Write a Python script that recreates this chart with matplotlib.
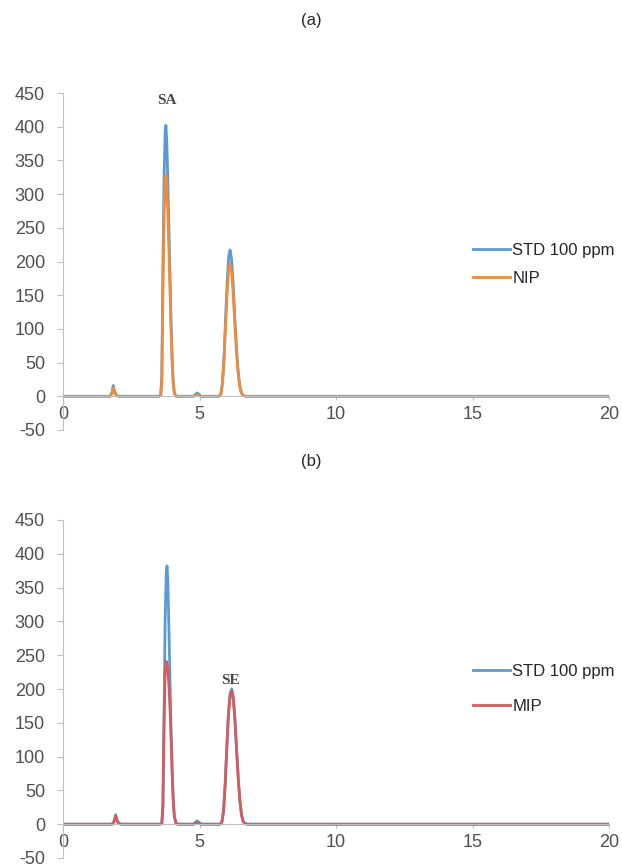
import matplotlib
matplotlib.use('Agg')
import matplotlib.pyplot as plt

plt.rcParams['font.family'] = ['Liberation Sans', 'DejaVu Sans']
plt.rcParams['axes.unicode_minus'] = False

# ── data ─────────────────────────────────────────────────────
t_a = [0, 1.72, 1.79, 1.84, 1.89, 1.96, 2.05,
       3.50, 3.58, 3.62, 3.66, 3.70, 3.74, 3.77, 3.80, 3.84, 3.88, 3.92, 3.96, 4.00, 4.04, 4.08, 4.14,
       4.78, 4.85, 4.91, 4.98, 5.06,
       5.72, 5.78, 5.84, 5.90, 5.96, 6.02, 6.07, 6.12, 6.17, 6.23, 6.29, 6.35, 6.41, 6.47, 6.53, 6.60, 6.70,
       20]
std_a = [0, 0, 5, 16, 7, 1, 0,
         0, 1, 30, 190, 320, 390, 402, 380, 320, 250, 180, 110, 55, 20, 5, 0,
         0, 3, 5, 3, 0,
         0, 3, 20, 60, 120, 175, 208, 217, 205, 170, 120, 75, 40, 17, 6, 1, 0,
         0]
nip_a = [0, 0, 4, 13, 6, 1, 0,
         0, 1, 25, 155, 265, 320, 328, 315, 270, 215, 155, 95, 48, 18, 5, 0,
         0, 1, 2, 1, 0,
         0, 3, 18, 55, 110, 160, 189, 197, 186, 155, 110, 68, 36, 15, 5, 1, 0,
         0]

t_b = [0, 1.80, 1.87, 1.93, 1.98, 2.05, 2.14,
       3.55, 3.62, 3.66, 3.70, 3.74, 3.78, 3.81, 3.84, 3.88, 3.92, 3.96, 4.00, 4.04, 4.08, 4.14, 4.20,
       4.78, 4.85, 4.91, 4.98, 5.06,
       5.76, 5.82, 5.88, 5.94, 6.00, 6.06, 6.12, 6.18, 6.24, 6.30, 6.36, 6.42, 6.48, 6.54, 6.60, 6.66, 6.76,
       20]
std_b = [0, 0, 4, 14, 6, 1, 0,
         0, 1, 25, 150, 300, 370, 382, 360, 290, 210, 135, 75, 32, 10, 1, 0,
         0, 3, 5, 3, 0,
         0, 3, 20, 60, 115, 165, 193, 200, 188, 155, 110, 68, 35, 14, 4, 1, 0,
         0]
mip_b = [0, 0, 4, 12, 5, 1, 0,
         0, 1, 30, 150, 225, 241, 238, 228, 205, 170, 128, 75, 35, 12, 2, 0,
         0, 1, 2, 1, 0,
         0, 3, 19, 58, 112, 162, 190, 197, 185, 152, 108, 66, 34, 13, 4, 1, 0,
         0]

x_ticks = [0, 5, 10, 15, 20]
y_ticks = [-50, 0, 50, 100, 150, 200, 250, 300, 350, 400, 450]

BLUE   = "#5b9bd5"
ORANGE = "#ee8c3e"
RED    = "#d45c5c"
GRID   = "#bfbfbf"
TXT    = "#505050"
SERIF  = ["Liberation Serif", "DejaVu Serif"]

W, H = 622, 865
fig = plt.figure(figsize=(W / 100, H / 100), dpi=100)


def style_axis(ax):
    ax.set_xlim(0, 20)
    ax.set_ylim(-50, 450)
    ax.set_xticks(x_ticks)
    ax.set_yticks(y_ticks)
    for s in ("top", "right"):
        ax.spines[s].set_visible(False)
    ax.spines["left"].set_color(GRID)
    ax.spines["bottom"].set_color(GRID)
    ax.spines["bottom"].set_position(("data", 0))
    ax.tick_params(axis="y", colors=GRID, labelcolor=TXT, labelsize=13, length=4, pad=9)
    ax.tick_params(axis="x", colors=GRID, labelcolor=TXT, labelsize=13, length=3, pad=4)


def add_legend(ax, top_px, spacing):
    ax.legend(loc="upper left", bbox_to_anchor=(473 / W, 1 - top_px / H),
              bbox_transform=fig.transFigure, frameon=False, fontsize=12,
              handlelength=2.2, handletextpad=0.15, labelspacing=spacing, borderpad=0,
              borderaxespad=0, labelcolor="#262626")


# ── (a) ──────────────────────────────────────────────────────
ax_a = fig.add_axes([63 / W, 1 - 430 / H, (609 - 63) / W, (430 - 93) / H])
style_axis(ax_a)
ax_a.plot(t_a, std_a, color=BLUE, lw=2.0, label="STD 100 ppm")
ax_a.plot(t_a, nip_a, color=ORANGE, lw=2.0, label="NIP")
ax_a.text(3.8, 439, "SA", family=SERIF, fontsize=11, weight="bold",
          color="#4a4a4a", ha="center", va="center")
add_legend(ax_a, 243, 0.78)
fig.text(0.5, 1 - 20 / H, "(a)", ha="center", va="center", fontsize=12, color="#262626")

# ── (b) ──────────────────────────────────────────────────────
ax_b = fig.add_axes([63 / W, 1 - 858 / H, (609 - 63) / W, (858 - 520) / H])
style_axis(ax_b)
ax_b.plot(t_b, std_b, color=BLUE, lw=2.0, label="STD 100 ppm")
ax_b.plot(t_b, mip_b, color=RED, lw=2.0, label="MIP")
ax_b.text(6.14, 213, "SE", family=SERIF, fontsize=11, weight="bold",
          color="#4a4a4a", ha="center", va="center")
add_legend(ax_b, 664, 1.2)
fig.text(0.5, 1 - 462 / H, "(b)", ha="center", va="center", fontsize=12, color="#262626")

fig.savefig("out.png", dpi=100)
